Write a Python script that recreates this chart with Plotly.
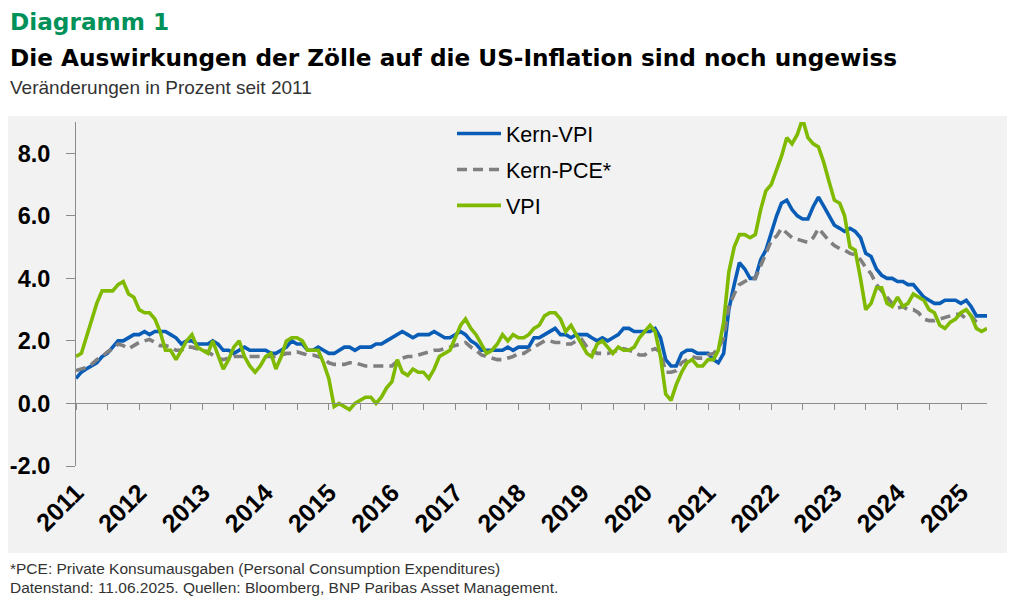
import plotly.graph_objects as go
import pandas as pd

# ---------------- data (monthly, Dec 2010 – May 2025) ----------------
months = pd.date_range("2010-12-31", "2025-05-31", freq="ME")

kern_vpi = [
    0.8,
    1.0, 1.1, 1.2, 1.3, 1.5, 1.6, 1.8, 2.0, 2.0, 2.1, 2.2, 2.2,
    2.3, 2.2, 2.3, 2.3, 2.3, 2.2, 2.1, 1.9, 2.0, 2.0, 1.9, 1.9,
    1.9, 2.0, 1.9, 1.7, 1.7, 1.6, 1.7, 1.8, 1.7, 1.7, 1.7, 1.7,
    1.6, 1.6, 1.7, 1.8, 2.0, 1.9, 1.9, 1.7, 1.7, 1.8, 1.7, 1.6,
    1.6, 1.7, 1.8, 1.8, 1.7, 1.8, 1.8, 1.8, 1.9, 1.9, 2.0, 2.1,
    2.2, 2.3, 2.2, 2.1, 2.2, 2.2, 2.2, 2.3, 2.2, 2.1, 2.1, 2.2,
    2.3, 2.2, 2.0, 1.9, 1.7, 1.7, 1.7, 1.7, 1.7, 1.8, 1.7, 1.8,
    1.8, 1.8, 2.1, 2.1, 2.2, 2.3, 2.4, 2.2, 2.2, 2.1, 2.2, 2.2,
    2.2, 2.1, 2.0, 2.1, 2.0, 2.1, 2.2, 2.4, 2.4, 2.3, 2.3, 2.3,
    2.3, 2.4, 2.1, 1.4, 1.2, 1.2, 1.6, 1.7, 1.7, 1.6, 1.6, 1.6,
    1.4, 1.3, 1.6, 3.0, 3.8, 4.5, 4.3, 4.0, 4.0, 4.6, 4.9, 5.5,
    6.0, 6.4, 6.5, 6.2, 6.0, 5.9, 5.9, 6.3, 6.6, 6.3, 6.0, 5.7,
    5.6, 5.5, 5.6, 5.5, 5.3, 4.8, 4.7, 4.3, 4.1, 4.0, 4.0, 3.9,
    3.9, 3.8, 3.8, 3.6, 3.4, 3.3, 3.2, 3.2, 3.3, 3.3, 3.3, 3.2,
    3.3, 3.1, 2.8, 2.8, 2.8,
]

kern_pce = [
    1.05,
    1.1, 1.15, 1.25, 1.4, 1.5, 1.65, 1.75, 1.9, 1.85, 1.75, 1.85, 1.95,
    2.0, 2.05, 1.95, 1.85, 1.85, 1.8, 1.7, 1.7, 1.8, 1.8, 1.75, 1.7,
    1.65, 1.55, 1.45, 1.4, 1.45, 1.5, 1.5, 1.5, 1.5, 1.5, 1.5, 1.5,
    1.5, 1.5, 1.55, 1.6, 1.6, 1.65, 1.6, 1.55, 1.55, 1.5, 1.45, 1.3,
    1.25, 1.25, 1.25, 1.3, 1.3, 1.25, 1.2, 1.2, 1.2, 1.2, 1.2, 1.2,
    1.35, 1.45, 1.5, 1.5, 1.55, 1.6, 1.65, 1.7, 1.7, 1.75, 1.8, 1.85,
    1.9, 1.95, 1.8, 1.7, 1.55, 1.5, 1.45, 1.4, 1.4, 1.45, 1.5, 1.6,
    1.6, 1.7, 1.8, 1.9, 2.0, 2.0, 1.95, 1.95, 1.9, 1.9, 2.0, 2.05,
    1.8, 1.7, 1.6, 1.6, 1.6, 1.65, 1.7, 1.75, 1.7, 1.65, 1.55, 1.55,
    1.7, 1.75, 1.65, 1.0, 1.0, 1.05, 1.3, 1.4, 1.5, 1.45, 1.45, 1.55,
    1.6, 1.75, 2.1, 3.1, 3.5, 3.8, 3.9, 4.0, 4.0, 4.4, 4.8, 5.2,
    5.35, 5.6, 5.45, 5.3, 5.25, 5.2, 5.15, 5.3, 5.6, 5.4, 5.2, 5.05,
    4.95, 4.9, 4.8, 4.75, 4.6, 4.35, 4.15, 3.8, 3.6, 3.4, 3.2, 3.05,
    3.1, 3.0, 3.0, 2.9, 2.7, 2.65, 2.65, 2.7, 2.75, 2.8, 2.85, 2.85,
    2.7, 2.8, 2.6, 2.5,
]

vpi = [
    1.5,
    1.6, 2.1, 2.7, 3.2, 3.6, 3.6, 3.6, 3.8, 3.9, 3.5, 3.4, 3.0,
    2.9, 2.9, 2.7, 2.3, 1.7, 1.7, 1.4, 1.7, 2.0, 2.2, 1.8, 1.7,
    1.6, 2.0, 1.5, 1.1, 1.4, 1.8, 2.0, 1.5, 1.2, 1.0, 1.2, 1.5,
    1.6, 1.1, 1.5, 2.0, 2.1, 2.1, 2.0, 1.7, 1.7, 1.7, 1.3, 0.8,
    -0.1, 0.0, -0.1, -0.2, 0.0, 0.1, 0.2, 0.2, 0.0, 0.2, 0.5, 0.7,
    1.4, 1.0, 0.9, 1.1, 1.0, 1.0, 0.8, 1.1, 1.5, 1.6, 1.7, 2.1,
    2.5, 2.7, 2.4, 2.2, 1.9, 1.6, 1.7, 1.9, 2.2, 2.0, 2.2, 2.1,
    2.1, 2.2, 2.4, 2.5, 2.8, 2.9, 2.9, 2.7, 2.3, 2.5, 2.2, 1.9,
    1.6, 1.5, 1.9, 2.0, 1.8, 1.6, 1.8, 1.7, 1.7, 1.8, 2.1, 2.3,
    2.5, 2.3, 1.5, 0.3, 0.1, 0.6, 1.0, 1.3, 1.4, 1.2, 1.2, 1.4,
    1.4, 1.7, 2.6, 4.2, 5.0, 5.4, 5.4, 5.3, 5.4, 6.2, 6.8, 7.0,
    7.5, 7.9, 8.5, 8.3, 8.6, 9.1, 8.5, 8.3, 8.2, 7.7, 7.1, 6.5,
    6.4, 6.0, 5.0, 4.9, 4.0, 3.0, 3.2, 3.7, 3.7, 3.2, 3.1, 3.4,
    3.1, 3.2, 3.5, 3.4, 3.3, 3.0, 2.9, 2.5, 2.4, 2.6, 2.7, 2.9,
    3.0, 2.8, 2.4, 2.3, 2.4,
]

y_ticks = [-2, 0, 2, 4, 6, 8]
y_labels = ["-2.0", "0.0", "2.0", "4.0", "6.0", "8.0"]
year_ticks = ["2011-01-01", "2012-01-01", "2013-01-01", "2014-01-01", "2015-01-01",
              "2016-01-01", "2017-01-01", "2018-01-01", "2019-01-01", "2020-01-01",
              "2021-01-01", "2022-01-01", "2023-01-01", "2024-01-01", "2025-01-01"]
year_labels = ["2011", "2012", "2013", "2014", "2015", "2016", "2017", "2018",
               "2019", "2020", "2021", "2022", "2023", "2024", "2025"]
half_year_ticks = [d for y in year_ticks for d in (y, y[:4] + "-07-01")][:-1]

names = ["Kern-VPI", "Kern-PCE*", "VPI"]

# ---------------- layout geometry (page pixels of the target) ----------------
OFF = 8                      # page body margin
W, H = 1015 - OFF, 602 - OFF  # figure size so that it fits the window
PL, PR, PT, PB = 76, 987, 122, 466   # plot area in page pixels
ML, MT = PL - OFF, PT - OFF
MR, MB = W - (PR - OFF), H - (PB - OFF)
Y_RANGE = [-2, 9]
X_RANGE = ["2010-12-31", "2025-05-31"]


def fx(px):
    return (px - PL) / (PR - PL)


def fy(py):
    return (PB - py) / (PB - PT)


BLUE = "#0A5DB6"
GRAY = "#7F7F80"
GREEN = "#7FBA00"
AXIS = "#8C8C8C"
BG = "#F2F2F2"
FONT = "Liberation Sans, Arial, sans-serif"
TITLE_FONT = "DejaVu Sans, Liberation Sans, sans-serif"

fig = go.Figure()
fig.add_trace(go.Scatter(x=months[:len(kern_vpi)], y=kern_vpi, name=names[0],
                         mode="lines", line=dict(color=BLUE, width=3.6),
                         legendgroup="a"))
fig.add_trace(go.Scatter(x=months[:len(kern_pce)], y=kern_pce, name=names[1],
                         mode="lines", line=dict(color=GRAY, width=3.6, dash="10px,6px"),
                         legendgroup="b"))
fig.add_trace(go.Scatter(x=months[:len(vpi)], y=vpi, name=names[2],
                         mode="lines", line=dict(color=GREEN, width=3.6),
                         legendgroup="c", xaxis="x2"))

fig.update_layout(
    width=W, height=H,
    margin=dict(l=ML, r=MR, t=MT, b=MB, pad=0, autoexpand=False),
    paper_bgcolor="white",
    plot_bgcolor="rgba(0,0,0,0)",
    font=dict(family=FONT, color="black"),
    showlegend=True,
    legend=dict(x=fx(452), y=fy(113), xanchor="left", yanchor="top",
                bgcolor="rgba(0,0,0,0)", borderwidth=0,
                font=dict(family=FONT, size=21.5, color="black"),
                tracegroupgap=5, itemwidth=44),
    xaxis=dict(type="date", range=X_RANGE, tickmode="array",
               tickvals=year_ticks, ticktext=year_labels, tickangle=-45,
               ticks="", showline=False, showgrid=False, zeroline=False,
               automargin=False,
               tickfont=dict(family=FONT, size=25, color="black", weight="bold"),
               ticklabelstandoff=6),
    xaxis2=dict(type="date", overlaying="x", matches="x", anchor="free",
                position=(0 - Y_RANGE[0]) / (Y_RANGE[1] - Y_RANGE[0]),
                range=X_RANGE, tickmode="array", tickvals=half_year_ticks,
                showticklabels=False, ticks="outside", ticklen=6, tickwidth=1,
                tickcolor=AXIS, showline=True, linecolor=AXIS, linewidth=1,
                showgrid=False, zeroline=False, automargin=False),
    yaxis=dict(range=Y_RANGE, tickmode="array", tickvals=y_ticks, ticktext=y_labels,
               showline=True, linecolor=AXIS, linewidth=1,
               ticks="outside", ticklen=9, tickcolor=AXIS, showgrid=False,
               zeroline=False, automargin=False,
               tickfont=dict(family=FONT, size=23.5, color="black", weight="bold"),
               ticklabelstandoff=11),
    shapes=[dict(type="rect", xref="paper", yref="paper",
                 x0=fx(4), x1=fx(1015), y0=fy(553), y1=fy(116),
                 fillcolor=BG, line=dict(width=0), layer="below")],
)

annos = [
    ("Diagramm 1", 8, 22, 23.2, "#00915A", "bold", TITLE_FONT),
    ("Die Auswirkungen der Zölle auf die US-Inflation sind noch ungewiss", 8, 58, 23.2, "black", "bold", TITLE_FONT),
    ("Veränderungen in Prozent seit 2011", 8, 87, 19, "#333333", "normal", FONT),
    ("*PCE: Private Konsumausgaben (Personal Consumption Expenditures)", 8, 568, 15.5, "#333333", "normal", FONT),
    ("Datenstand: 11.06.2025. Quellen: Bloomberg, BNP Paribas Asset Management.", 8, 587, 15.5, "#333333", "normal", FONT),
]
for text, px, py, size, color, weight, family in annos:
    fig.add_annotation(text=text, x=fx(px), y=fy(py), xref="paper", yref="paper",
                       xanchor="left", yanchor="middle", showarrow=False,
                       font=dict(family=family, size=size, color=color, weight=weight))

fig.write_html("out.html")
